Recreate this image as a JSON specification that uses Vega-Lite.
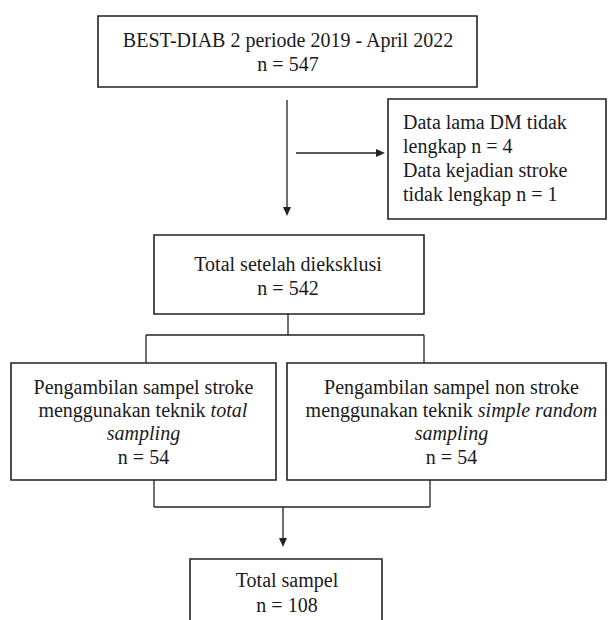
{
  "$schema": "https://vega.github.io/schema/vega-lite/v6.json",
  "width": 608,
  "height": 620,
  "autosize": {"type": "fit", "contains": "padding"},
  "padding": 0,
  "background": "white",
  "config": {"view": {"stroke": null}},
  "datasets": {
    "boxes": [
      {"id": "b1", "x": 98, "y": 16, "x2": 477, "y2": 87},
      {"id": "b2", "x": 388, "y": 99, "x2": 606, "y2": 219},
      {"id": "b3", "x": 154, "y": 235, "x2": 424, "y2": 314},
      {"id": "b4", "x": 11, "y": 363, "x2": 276, "y2": 480},
      {"id": "b5", "x": 287, "y": 363, "x2": 606, "y2": 480},
      {"id": "b6", "x": 190, "y": 559, "x2": 382, "y2": 640}
    ],
    "lines": [
      {"x": 287, "y": 100, "x2": 287, "y2": 208},
      {"x": 296, "y": 153, "x2": 377, "y2": 153},
      {"x": 288, "y": 314, "x2": 288, "y2": 335},
      {"x": 146, "y": 335, "x2": 424, "y2": 335},
      {"x": 146, "y": 335, "x2": 146, "y2": 363},
      {"x": 424, "y": 335, "x2": 424, "y2": 363},
      {"x": 154, "y": 480, "x2": 154, "y2": 507},
      {"x": 430, "y": 480, "x2": 430, "y2": 507},
      {"x": 154, "y": 507, "x2": 430, "y2": 507},
      {"x": 283, "y": 507, "x2": 283, "y2": 539}
    ],
    "arrows": [
      {"x": 287, "y": 216, "dir": "down"},
      {"x": 385, "y": 153, "dir": "right"},
      {"x": 283, "y": 547, "dir": "down"}
    ],
    "labels": [
      {"text": "BEST-DIAB 2 periode 2019 - April 2022", "x": 288, "y": 47, "kind": "center"},
      {"text": "n = 547", "x": 288, "y": 71, "kind": "center"},
      {"text": "Data lama DM tidak", "x": 403, "y": 129, "kind": "left"},
      {"text": "lengkap n = 4", "x": 403, "y": 153, "kind": "left"},
      {"text": "Data kejadian stroke", "x": 403, "y": 177, "kind": "left"},
      {"text": "tidak lengkap n = 1", "x": 403, "y": 201, "kind": "left"},
      {"text": "Total setelah dieksklusi", "x": 288, "y": 271, "kind": "center"},
      {"text": "n = 542", "x": 288, "y": 295, "kind": "center"},
      {"text": "Pengambilan sampel stroke", "x": 143.5, "y": 394, "kind": "center"},
      {"text": "menggunakan teknik", "x": 205.6, "y": 417, "kind": "right"},
      {"text": "total", "x": 210.6, "y": 417, "kind": "italicleft"},
      {"text": "sampling", "x": 143.5, "y": 440, "kind": "italiccenter"},
      {"text": "n = 54", "x": 143.5, "y": 464, "kind": "center"},
      {"text": "Pengambilan sampel non stroke", "x": 451.5, "y": 394, "kind": "center"},
      {"text": "menggunakan teknik", "x": 472.8, "y": 417, "kind": "right"},
      {"text": "simple random", "x": 477.8, "y": 417, "kind": "italicleft"},
      {"text": "sampling", "x": 451.5, "y": 440, "kind": "italiccenter"},
      {"text": "n = 54", "x": 451.5, "y": 464, "kind": "center"},
      {"text": "Total sampel", "x": 287, "y": 587, "kind": "center"},
      {"text": "n = 108", "x": 287, "y": 612, "kind": "center"}
    ]
  },
  "encoding": {
    "x": {"field": "x", "type": "quantitative", "scale": {"domain": [0, 608], "nice": false, "zero": false}, "axis": null},
    "y": {"field": "y", "type": "quantitative", "scale": {"domain": [0, 620], "nice": false, "zero": false, "reverse": true}, "axis": null}
  },
  "layer": [
    {
      "data": {"name": "boxes"},
      "mark": {"type": "rect", "fill": "white", "stroke": "#222222", "strokeWidth": 1.6, "clip": true},
      "encoding": {
        "x2": {"field": "x2"},
        "y2": {"field": "y2"}
      }
    },
    {
      "data": {"name": "lines"},
      "mark": {"type": "rule", "color": "#222222", "strokeWidth": 1.3},
      "encoding": {
        "x2": {"field": "x2"},
        "y2": {"field": "y2"}
      }
    },
    {
      "data": {"name": "arrows"},
      "mark": {"type": "point", "filled": true, "size": 16, "color": "#222222", "opacity": 1},
      "encoding": {
        "shape": {"field": "dir", "type": "nominal", "scale": {"domain": ["down", "right"], "range": ["M-2,-4.5L2,-4.5L0,0Z", "M-4.5,-2L-4.5,2L0,0Z"]}, "legend": null}
      }
    },
    {
      "data": {"name": "labels"},
      "transform": [{"filter": "datum.kind === 'center'"}],
      "mark": {"type": "text", "font": "Liberation Serif", "fontSize": 20, "align": "center", "baseline": "alphabetic", "color": "#1a1a1a"},
      "encoding": {"text": {"field": "text"}}
    },
    {
      "data": {"name": "labels"},
      "transform": [{"filter": "datum.kind === 'left'"}],
      "mark": {"type": "text", "font": "Liberation Serif", "fontSize": 20, "align": "left", "baseline": "alphabetic", "color": "#1a1a1a"},
      "encoding": {"text": {"field": "text"}}
    },
    {
      "data": {"name": "labels"},
      "transform": [{"filter": "datum.kind === 'right'"}],
      "mark": {"type": "text", "font": "Liberation Serif", "fontSize": 20, "align": "right", "baseline": "alphabetic", "color": "#1a1a1a"},
      "encoding": {"text": {"field": "text"}}
    },
    {
      "data": {"name": "labels"},
      "transform": [{"filter": "datum.kind === 'italicleft'"}],
      "mark": {"type": "text", "font": "Liberation Serif", "fontSize": 20, "fontStyle": "italic", "align": "left", "baseline": "alphabetic", "color": "#1a1a1a"},
      "encoding": {"text": {"field": "text"}}
    },
    {
      "data": {"name": "labels"},
      "transform": [{"filter": "datum.kind === 'italiccenter'"}],
      "mark": {"type": "text", "font": "Liberation Serif", "fontSize": 20, "fontStyle": "italic", "align": "center", "baseline": "alphabetic", "color": "#1a1a1a"},
      "encoding": {"text": {"field": "text"}}
    }
  ]
}
